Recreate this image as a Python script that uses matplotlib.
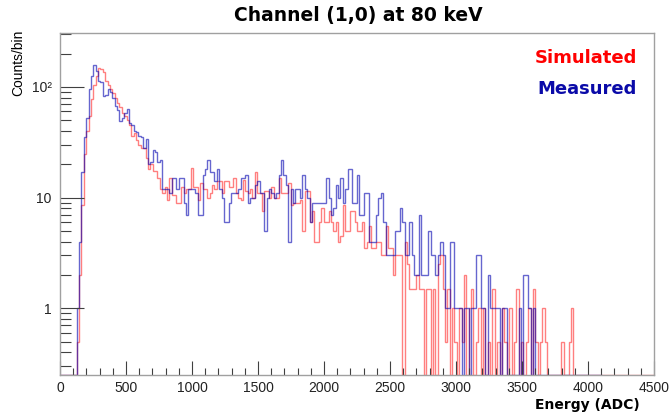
import numpy as np
import matplotlib
matplotlib.use("Agg")
import matplotlib.pyplot as plt
from matplotlib.ticker import FixedLocator, FixedFormatter, LogLocator, MultipleLocator, NullFormatter

# histogram binning (ADC)
bin_width = 18
x_max = 4500

# measured spectrum, counts per bin (range ends near 4100 ADC)
measured_counts = [
    0, 0, 0, 0, 0, 0, 0, 1, 4, 17,
    35, 52, 96, 125, 158, 140, 113, 110, 83, 85,
    96, 90, 80, 67, 62, 49, 52, 58, 63, 47,
    45, 40, 39, 36, 35, 28, 34, 20, 21, 27,
    26, 21, 22, 12, 12, 12, 11, 15, 15, 12,
    15, 15, 9, 7, 12, 12, 12, 11, 7, 7,
    16, 18, 22, 17, 17, 14, 18, 12, 10, 6,
    6, 9, 11, 11, 11, 12, 15, 15, 16, 9,
    10, 10, 13, 14, 11, 11, 5, 10, 12, 11,
    10, 11, 16, 22, 16, 13, 4, 12, 9, 12,
    12, 10, 16, 12, 10, 6, 9, 9, 9, 9,
    9, 9, 15, 10, 7, 8, 13, 10, 15, 9,
    12, 18, 18, 9, 9, 16, 7, 7, 11, 11,
    4, 4, 4, 7, 10, 11, 6, 3, 3, 3,
    3, 5, 5, 8, 6, 3, 3, 6, 3, 2,
    2, 7, 2, 2, 2, 5, 3, 3, 2, 3,
    4, 3, 1, 1, 4, 4, 1, 1, 1, 0,
    1, 1, 0, 1, 1, 3, 3, 1, 1, 0,
    2, 1, 1, 1, 1, 0, 1, 1, 0, 0,
    0, 0, 0, 1, 0, 2, 2, 1, 0, 1,
    0, 0, 0, 0, 0, 0, 0, 0, 0, 0,
    0, 0, 0, 0, 0, 0, 0, 0, 0, 0,
    0, 0, 0, 0, 0, 0, 0, 0,
]

# simulated spectrum, scaled to the measurement
simulated_counts = [
    0, 0, 0, 0, 0, 0, 0, 0.5, 2, 8.5,
    25, 40, 55, 78, 105, 125, 148, 145, 135, 113,
    105, 96, 88, 80, 72, 66, 58, 55, 50, 45,
    36, 38, 33, 30, 28, 28, 23, 18, 20, 17.5,
    17.5, 15, 12, 11, 12.5, 9.5, 15, 10.5, 10.5, 9,
    9, 12.5, 11, 12, 12, 18.5, 12.5, 12.5, 9.5, 13.5,
    12, 12, 10, 11, 13, 12, 14, 14, 11, 14,
    14, 12.5, 12.5, 15, 11, 10, 9.5, 14.5, 11.5, 11,
    12, 10, 17, 11, 11, 7.5, 11.5, 11.5, 10, 12.5,
    10, 10, 15, 11, 11, 11, 13.5, 8.5, 9, 9,
    9, 9.5, 5, 11.5, 11.5, 6, 7.5, 4, 4, 6,
    8, 6, 6, 7.5, 6, 5, 6, 4, 4.5, 8.5,
    5, 5, 7.5, 7.5, 6, 5, 5, 6, 3.5, 4,
    5.5, 3.5, 3.5, 4, 4, 3, 3, 5.5, 3.5, 3.5,
    2, 3, 3, 3, 0, 4, 2.5, 1.5, 1.5, 1.5,
    2, 1.5, 1.5, 0, 1.5, 1.5, 0, 1.5, 0, 2.5,
    3, 1.5, 0.5, 1.5, 0, 1, 0.5, 0, 1, 0.5,
    2, 0, 1, 1.5, 0, 0.5, 1, 0, 1, 0,
    0.5, 0, 1.5, 0, 0.5, 0, 1, 0.5, 0, 1,
    0, 0.5, 1.5, 0, 0.5, 0, 0.5, 1, 0, 1.5,
    0.5, 0, 0.5, 1, 0.5, 0, 0, 0, 0, 0,
    0, 0.5, 0, 0, 0.5, 1, 0, 0, 0, 0,
    0, 0, 0, 0, 0, 0, 0, 0, 0, 0,
    0, 0, 0, 0, 0, 0, 0, 0, 0, 0,
    0, 0, 0, 0, 0, 0, 0, 0, 0, 0,
]

y_ticks = [1, 10, 100]
y_tick_labels = ["1", "10", "10\u00b2"]

ymin, ymax = 0.25, 306

fig = plt.figure(figsize=(6.69, 4.18), dpi=100)
ax = fig.add_axes([0.0897, 0.1029, 0.888, 0.818])

sim = np.maximum(np.array(simulated_counts, dtype=float), ymin)
mea = np.maximum(np.array(measured_counts, dtype=float), ymin)
sim_edges = np.arange(len(sim) + 1) * bin_width
mea_edges = np.arange(len(mea) + 1) * bin_width

ax.stairs(sim, sim_edges, baseline=None, color="#ff0000", lw=1.0, alpha=0.5)
ax.stairs(mea, mea_edges, baseline=None, color="#0000b0", lw=1.0, alpha=0.6)

ax.set_yscale("log")
ax.set_xlim(0, x_max)
ax.set_ylim(ymin, ymax)

ax.xaxis.set_major_locator(MultipleLocator(500))
ax.xaxis.set_minor_locator(MultipleLocator(100))
ax.yaxis.set_major_locator(FixedLocator(y_ticks))
ax.yaxis.set_major_formatter(FixedFormatter(y_tick_labels))
ax.yaxis.set_minor_locator(LogLocator(base=10, subs=np.arange(2, 10)))
ax.yaxis.set_minor_formatter(NullFormatter())

for s in ax.spines.values():
    s.set_color("#a0a0a0")
    s.set_linewidth(1.0)

ax.tick_params(axis="x", which="major", direction="in", length=10, width=0.8,
               color="#404040", pad=4)
ax.tick_params(axis="x", which="minor", direction="in", length=5, width=0.8,
               color="#404040")
ax.tick_params(axis="y", which="major", direction="in", length=17, width=0.8,
               color="#404040", pad=6)
ax.tick_params(axis="y", which="minor", direction="in", length=8, width=0.8,
               color="#404040")
for lab in ax.get_xticklabels() + ax.get_yticklabels():
    lab.set_fontfamily("Liberation Sans")
    lab.set_fontsize(10)
    lab.set_color("#222222")

fig.text(0.535, 0.964, "Channel (1,0) at 80 keV", ha="center", va="center",
         fontsize=13.5, fontweight="bold", family="DejaVu Sans")
ax.text(0.971, 0.927, "Simulated", transform=ax.transAxes, ha="right", va="center",
        fontsize=13, fontweight="bold", color="#ff0000", family="DejaVu Sans")
ax.text(0.971, 0.836, "Measured", transform=ax.transAxes, ha="right", va="center",
        fontsize=13, fontweight="bold", color="#0a0aa8", family="DejaVu Sans")
fig.text(0.957, 0.031, "Energy (ADC)", ha="right", va="center",
         fontsize=10, fontweight="bold", family="DejaVu Sans")
fig.text(0.027, 0.928, "Counts/bin", rotation=90, ha="center", va="top",
         fontsize=10, family="Liberation Sans")

fig.savefig("out.png", dpi=100)
